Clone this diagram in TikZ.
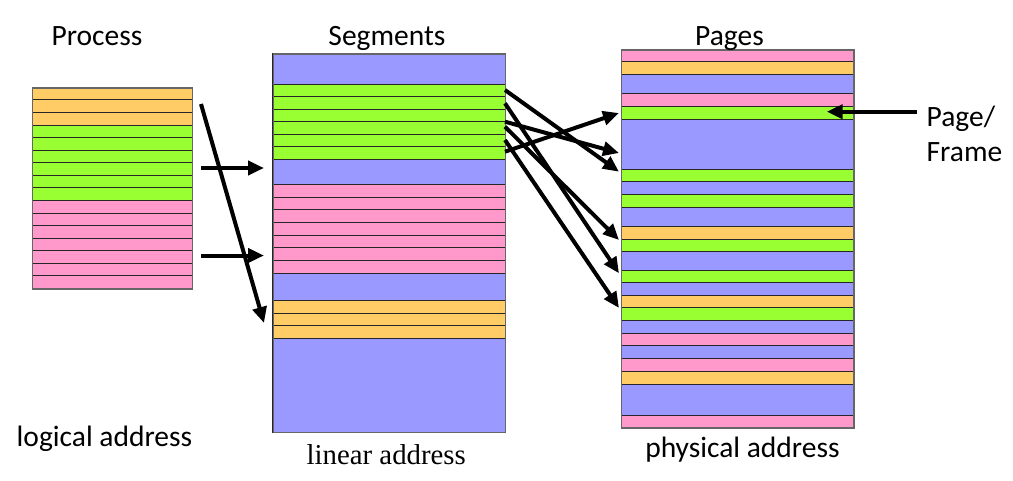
\documentclass[tikz,border=0pt]{standalone}
\usepackage{fontspec}
\setmainfont{Carlito}
\newfontfamily\timesf{Liberation Serif}
\usetikzlibrary{arrows.meta}
\definecolor{orng}{HTML}{FFCC66}
\definecolor{grn}{HTML}{99FF33}
\definecolor{pnk}{HTML}{FF99CC}
\definecolor{blu}{HTML}{9999FF}
\begin{document}
\begin{tikzpicture}[x=1pt,y=-1pt,
  row/.style={draw=black!85, line width=0.8pt},
  colbox/.style={draw=black!60, line width=1.2pt, inner sep=0pt, anchor=north west},
  lbl/.style={font=\fontsize{29.5}{35}\selectfont, inner sep=0pt, anchor=base},
  arr/.style={line width=4pt, -{Triangle[length=16pt,width=14pt]}}]
\useasboundingbox (0,0) rectangle (1013,480);
% ---------- Process column ----------
\foreach \c [count=\i from 0] in {orng,orng,orng,grn,grn,grn,grn,grn,grn,pnk,pnk,pnk,pnk,pnk,pnk,pnk}{
  \filldraw[fill=\c,row] (32,{87.3+\i*12.5625}) rectangle (192,{87.3+(\i+1)*12.5625});
}
\node[colbox, minimum width=160pt, minimum height=201pt] (process) at (32,87.3) {};
% ---------- Segments column ----------
\filldraw[fill=blu,row] (272.7,53.3) rectangle (505,84);
\foreach \i in {0,...,5}{
  \filldraw[fill=grn,row] (272.7,{84+\i*12.55}) rectangle (505,{84+(\i+1)*12.55});
}
\filldraw[fill=blu,row] (272.7,159.3) rectangle (505,184.3);
\foreach \i in {0,...,6}{
  \filldraw[fill=pnk,row] (272.7,{184.3+\i*12.714}) rectangle (505,{184.3+(\i+1)*12.714});
}
\filldraw[fill=blu,row] (272.7,273.3) rectangle (505,300.3);
\foreach \i in {0,1,2}{
  \filldraw[fill=orng,row] (272.7,{300.3+\i*12.667}) rectangle (505,{300.3+(\i+1)*12.667});
}
\filldraw[fill=blu,row] (272.7,338.3) rectangle (505,432);
\node[colbox, minimum width=232.3pt, minimum height=378.7pt] (segments) at (272.7,53.3) {};
% ---------- Pages column ----------
\foreach \a/\b/\c in {49.3/61.7/pnk, 61.7/74.7/orng, 74.7/93/blu, 93/106/pnk, 106/119/grn,
  119/169.3/blu, 169.3/181.7/grn, 181.7/194.3/blu, 194.3/207.3/grn, 207.3/226/blu,
  226/239/orng, 239/251.7/grn, 251.7/270/blu, 270/282.7/grn, 282.7/295.7/blu,
  295.7/307.7/orng, 307.7/320.7/grn, 320.7/333.3/blu, 333.3/345.7/pnk, 345.7/358.3/blu,
  358.3/371.7/pnk, 371.7/384.3/orng, 384.3/415.3/blu, 415.3/427.3/pnk}{
  \filldraw[fill=\c,row] (621,\a) rectangle (853.3,\b);
}
\node[colbox, minimum width=232.3pt, minimum height=378pt] (pages) at (621,49.3) {};
% ---------- Labels ----------
\node[lbl] (tproc) at (97,45) {Process};
\node[lbl] (tseg) at (387,45) {Segments};
\node[lbl] (tpag) at (729.5,45) {Pages};
\node[lbl, anchor=base west] (tlog) at (16.5,446.5) {logical address};
\node[lbl, anchor=base west, font=\timesf\fontsize{28.8}{34}\selectfont] (tlin) at (306.5,464.5) {linear address};
\node[lbl] (tphy) at (742.5,457.5) {physical address};
\node[lbl, anchor=base west, align=left] (tpf) at (926.5,126.7) {Page/};
\node[lbl, anchor=base west, align=left] (tfr) at (926.5,161.7) {Frame};
% ---------- Arrow end points ----------
\coordinate (pa1) at (201,104);   \coordinate (sa1) at (264,323);
\coordinate (pa2) at (201,168);   \coordinate (sa2) at (264,168);
\coordinate (pa3) at (201,255.5); \coordinate (sa3) at (264,255.5);
\coordinate (s1) at (505,90);    \coordinate (g1) at (619,171.7);
\coordinate (s2) at (505,103.3); \coordinate (g2) at (619,273.3);
\coordinate (s3) at (505,121.7); \coordinate (g3) at (619,153);
\coordinate (s4) at (505,126.7); \coordinate (g4) at (619,240);
\coordinate (s5) at (505,140);   \coordinate (g5) at (619,308);
\coordinate (s6) at (505,151.7); \coordinate (g6) at (619,113);
\coordinate (pfs) at (916.7,111.7); \coordinate (pfe) at (826.7,111.7);
% ---------- Arrows ----------
\draw[arr] (pa1) -- (sa1);
\draw[arr] (pa2) -- (sa2);
\draw[arr] (pa3) -- (sa3);
\foreach \k in {1,...,6}{ \draw[arr] (s\k) -- (g\k); }
\draw[arr] (pfs) -- (pfe);
\end{tikzpicture}
\end{document}
